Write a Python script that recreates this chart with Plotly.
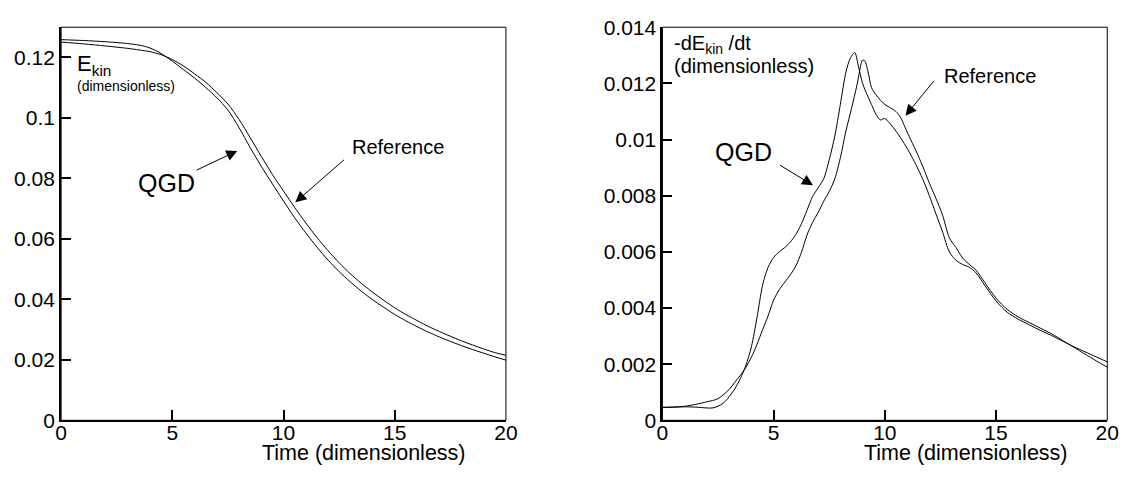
import plotly.graph_objects as go

# ---- Left panel: kinetic energy ----
t_e_qgd = [0, 1, 2, 3, 3.5, 3.75, 4, 4.25, 4.5, 5, 5.5, 6, 6.5, 7, 7.5, 8, 8.5, 9, 9.5, 10, 10.5, 11,
           11.5, 12, 12.5, 13, 13.5, 14, 14.5, 15, 15.5, 16, 16.5, 17, 17.5, 18, 18.5, 19, 19.5, 20]
e_qgd = [0.1259, 0.1256, 0.1252, 0.1246, 0.1241, 0.1237, 0.1231, 0.1223, 0.1213, 0.1188, 0.1160,
         0.1132, 0.1101, 0.1067, 0.1026, 0.0968, 0.0902, 0.0840, 0.0782, 0.0725, 0.0670, 0.0620,
         0.0573, 0.0530, 0.0492, 0.0458, 0.0427, 0.0399, 0.0374, 0.0350, 0.0329, 0.0310, 0.0292,
         0.0276, 0.0261, 0.0247, 0.0234, 0.0222, 0.0210, 0.0199]
t_e_ref = [0, 1, 2, 3, 3.5, 4, 4.5, 5, 5.5, 6, 6.5, 7, 7.5, 8, 8.5, 9, 9.5, 10, 10.5, 11,
           11.5, 12, 12.5, 13, 13.5, 14, 14.5, 15, 15.5, 16, 16.5, 17, 17.5, 18, 18.5, 19, 19.5, 20]
e_ref = [0.1251, 0.1245, 0.1238, 0.1230, 0.1225, 0.1219, 0.1209, 0.1193, 0.1172, 0.1146, 0.1118,
         0.1084, 0.1046, 0.0995, 0.0935, 0.0873, 0.0813, 0.0758, 0.0704, 0.0653, 0.0605, 0.0561,
         0.0521, 0.0485, 0.0453, 0.0424, 0.0397, 0.0372, 0.0350, 0.0330, 0.0311, 0.0294, 0.0278,
         0.0263, 0.0249, 0.0236, 0.0224, 0.0215]

# ---- Right panel: dissipation rate ----
t_d_qgd = [0, 0.5, 1, 1.5, 2, 2.25, 2.5, 2.75, 3, 3.25, 3.5, 3.75, 4, 4.25, 4.5, 4.75, 5, 5.25,
           5.5, 5.75, 6, 6.25, 6.5, 6.75, 7, 7.25, 7.5, 7.75, 8, 8.25, 8.45, 8.65, 8.8, 9.0, 9.2,
           9.4, 9.6, 9.8, 10.0, 10.2, 10.5, 10.8, 11.1, 11.4, 11.7, 12.0, 12.3, 12.6, 12.9, 13.2,
           13.5, 13.8, 14.1, 14.5, 15, 15.5, 16, 16.5, 17, 17.5, 18, 18.5, 19, 19.5, 20]
d_qgd = [0.00046, 0.00047, 0.00048, 0.00047, 0.00044, 0.00044, 0.00050, 0.00062, 0.00084, 0.00112,
         0.00148, 0.00195, 0.00262, 0.00365, 0.00480, 0.00545, 0.00580, 0.00600, 0.00615, 0.00635,
         0.00662, 0.00700, 0.00748, 0.00797, 0.00828, 0.00860, 0.00928, 0.01012, 0.01125, 0.01240,
         0.01290, 0.01310, 0.01265, 0.01200, 0.01160, 0.01125, 0.01090, 0.01070, 0.01075, 0.01060,
         0.01030, 0.00995, 0.00955, 0.00910, 0.00860, 0.00800, 0.00735, 0.00670, 0.00600, 0.00570,
         0.00555, 0.00545, 0.00525, 0.00480, 0.00425, 0.00385, 0.00360, 0.00340, 0.00320, 0.00302,
         0.00282, 0.00262, 0.00244, 0.00226, 0.00208]
t_d_ref = [0, 0.5, 1, 1.5, 2, 2.5, 3, 3.25, 3.5, 3.75, 4, 4.25, 4.5, 4.75, 5, 5.25, 5.5, 5.75, 6,
           6.25, 6.5, 6.75, 7, 7.25, 7.5, 7.75, 8, 8.25, 8.5, 8.75, 9.0, 9.1, 9.25, 9.4, 9.6, 9.8,
           10.0, 10.2, 10.5, 10.7, 10.9, 11.1, 11.4, 11.7, 12.0, 12.3, 12.6, 12.9, 13.2, 13.5, 13.8,
           14.1, 14.5, 15, 15.5, 16, 16.5, 17, 17.5, 18, 18.5, 19, 19.5, 20]
d_ref = [0.00046, 0.00047, 0.00050, 0.00057, 0.00066, 0.00077, 0.00110, 0.00135, 0.00160, 0.00188,
         0.00225, 0.00270, 0.00322, 0.00372, 0.00428, 0.00465, 0.00492, 0.00518, 0.00550, 0.00598,
         0.00660, 0.00705, 0.00740, 0.00780, 0.00815, 0.00860, 0.00935, 0.01030, 0.01110, 0.01195,
         0.01283, 0.01280, 0.01240, 0.01185, 0.01160, 0.01140, 0.01125, 0.01115, 0.01100, 0.01080,
         0.01045, 0.01010, 0.00960, 0.00905, 0.00845, 0.00790, 0.00730, 0.00650, 0.00615, 0.00578,
         0.00555, 0.00535, 0.00490, 0.00435, 0.00395, 0.00368, 0.00348, 0.00328, 0.00308, 0.00284,
         0.00260, 0.00236, 0.00212, 0.00189]

x_ticks = [0, 5, 10, 15, 20]
y1_ticks = [0, 0.02, 0.04, 0.06, 0.08, 0.1, 0.12]
y1_labels = ["0", "0.02", "0.04", "0.06", "0.08", "0.1", "0.12"]
y2_ticks = [0, 0.002, 0.004, 0.006, 0.008, 0.01, 0.012, 0.014]
y2_labels = ["0", "0.002", "0.004", "0.006", "0.008", "0.01", "0.012", "0.014"]

W, H = 1135, 477
FONT = "Liberation Sans, Arial, sans-serif"

def px_x(p):
    return p / W

def px_y(p):
    return 1 - p / H

fig = go.Figure()
line = dict(color="black", width=1, shape="spline", smoothing=0.8)
for xs, ys, xa, ya in ((t_e_qgd, e_qgd, "x", "y"), (t_e_ref, e_ref, "x", "y"),
                       (t_d_qgd, d_qgd, "x2", "y2"), (t_d_ref, d_ref, "x2", "y2")):
    fig.add_trace(go.Scatter(x=xs, y=ys, mode="lines", line=line, xaxis=xa, yaxis=ya,
                             showlegend=False, hoverinfo="skip"))

ydom = [px_y(429), px_y(16)]
axis_common = dict(showline=True, linecolor="black", linewidth=2, ticks="inside", ticklen=10,
                   tickwidth=1.5, tickcolor="black", showgrid=False, zeroline=False,
                   tickfont=dict(family=FONT, size=21, color="black"), mirror=False)

fig.update_layout(
    width=W, height=H, margin=dict(l=0, r=0, t=0, b=0),
    paper_bgcolor="white", plot_bgcolor="white",
    xaxis=dict(domain=[px_x(56), px_x(508)], range=[0, 20], tickvals=x_ticks, anchor="y",
               ticklabelstandoff=-8, **axis_common),
    yaxis=dict(domain=ydom, range=[0, 0.13], tickvals=y1_ticks, ticktext=y1_labels, anchor="x",
               **axis_common),
    xaxis2=dict(domain=[px_x(667), px_x(1119)], range=[0, 20], tickvals=x_ticks, anchor="y2",
                ticklabelstandoff=-8, **axis_common),
    yaxis2=dict(domain=ydom, range=[0, 0.014], tickvals=y2_ticks, ticktext=y2_labels, anchor="x2",
                **axis_common),
)

# thin frame (top/right)
for xr, yr in (("x domain", "y domain"), ("x2 domain", "y2 domain")):
    fig.add_shape(type="rect", xref=xr, yref=yr, x0=0, x1=1, y0=0, y1=1,
                  line=dict(color="black", width=1), layer="above")

def txt(text, x, y, size, xanchor="center", yanchor="middle"):
    fig.add_annotation(text=text, x=x, y=y, xref="paper", yref="paper", showarrow=False,
                       xanchor=xanchor, yanchor=yanchor, align="left", borderpad=0,
                       font=dict(family=FONT, size=size, color="black"))

# axis titles
txt("Time (dimensionless)", px_x(364), 0, 21.5, yanchor="bottom")
txt("Time (dimensionless)", px_x(975), 0, 21.5, yanchor="bottom")

# left labels
txt("E<sub>kin</sub>", px_x(71), px_y(56), 22, xanchor="left")
txt("(dimensionless)", px_x(71), px_y(78), 14, xanchor="left")
# right labels
txt("-dE<sub>kin</sub> /dt", px_x(678), px_y(34), 20, xanchor="left")
txt("(dimensionless)", px_x(678), px_y(57), 20, xanchor="left")

def arrow_label(text, tx, ty, size, xa, ya, tail, tip):
    fig.add_annotation(text=text, x=tx, y=ty, xref=xa, yref=ya, showarrow=False,
                       font=dict(family=FONT, size=size, color="black"))
    fig.add_annotation(text="", x=tip[0], y=tip[1], ax=tail[0], ay=tail[1], xref=xa, yref=ya,
                       axref=xa, ayref=ya, showarrow=True, arrowhead=2, arrowsize=2.2,
                       arrowwidth=1, arrowcolor="black", standoff=0, startstandoff=0)

arrow_label("QGD", 4.73, 0.0784, 25, "x", "y", (6.02, 0.0825), (7.92, 0.0891))
arrow_label("Reference", 15.13, 0.0903, 20, "x", "y", (12.79, 0.0866), (10.53, 0.0721))
arrow_label("QGD", 3.63, 0.00956, 25, "x2", "y2", (5.22, 0.00912), (6.77, 0.00837))
arrow_label("Reference", 14.73, 0.01227, 20, "x2", "y2", (12.26, 0.01214), (10.93, 0.01085))

fig.write_html("out.html")
